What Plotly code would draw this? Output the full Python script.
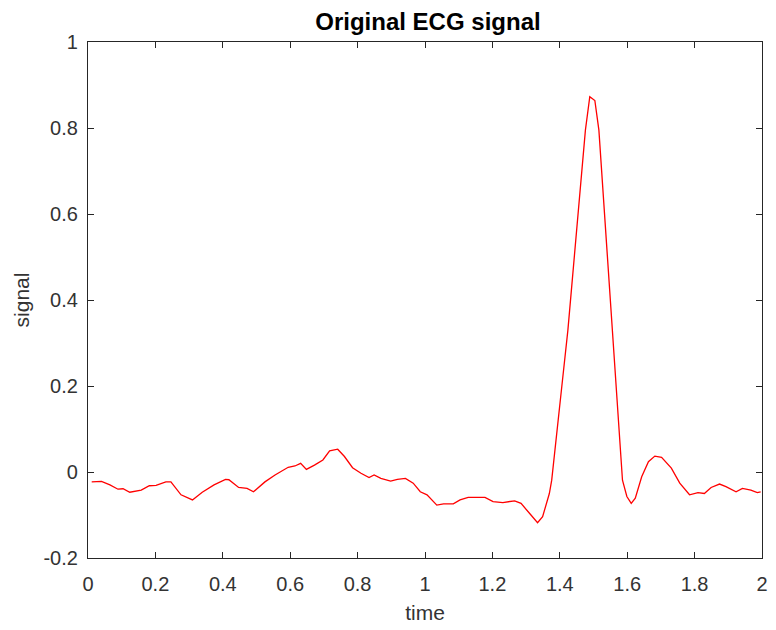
import plotly.graph_objects as go

# Data (time in s, signal amplitude)
time = [0.011, 0.040, 0.065, 0.089, 0.104, 0.124, 0.158, 0.182, 0.202, 0.231,
        0.246, 0.276, 0.310, 0.339, 0.374, 0.408, 0.418, 0.447, 0.472, 0.491,
        0.525, 0.555, 0.594, 0.614, 0.631, 0.648, 0.672, 0.697, 0.717, 0.741,
        0.761, 0.785, 0.810, 0.834, 0.849, 0.869, 0.898, 0.918, 0.942, 0.965,
        0.986, 1.006, 1.035, 1.055, 1.084, 1.104, 1.128, 1.178, 1.202, 1.231,
        1.266, 1.285, 1.310, 1.334, 1.349, 1.369, 1.376, 1.393, 1.408, 1.424,
        1.437, 1.449, 1.462, 1.476, 1.489, 1.504, 1.516, 1.526, 1.535, 1.545,
        1.555, 1.566, 1.576, 1.586, 1.599, 1.612, 1.624, 1.643, 1.663, 1.682,
        1.702, 1.731, 1.756, 1.785, 1.810, 1.829, 1.849, 1.874, 1.893, 1.923,
        1.942, 1.967, 1.986, 1.996]
signal = [-0.023, -0.022, -0.030, -0.040, -0.039, -0.047, -0.042, -0.032, -0.031, -0.023,
          -0.023, -0.053, -0.065, -0.047, -0.030, -0.017, -0.018, -0.036, -0.038, -0.046,
          -0.023, -0.007, 0.011, 0.014, 0.020, 0.006, 0.016, 0.028, 0.049, 0.053,
          0.036, 0.010, -0.003, -0.013, -0.007, -0.015, -0.021, -0.017, -0.015, -0.026,
          -0.046, -0.053, -0.077, -0.074, -0.074, -0.065, -0.059, -0.059, -0.069, -0.071,
          -0.067, -0.073, -0.096, -0.118, -0.104, -0.050, -0.019, 0.098, 0.214, 0.330,
          0.447, 0.563, 0.679, 0.795, 0.873, 0.864, 0.795, 0.679, 0.563, 0.447,
          0.330, 0.214, 0.098, -0.019, -0.057, -0.073, -0.061, -0.011, 0.024, 0.037,
          0.034, 0.009, -0.026, -0.053, -0.048, -0.050, -0.036, -0.028, -0.034, -0.046,
          -0.038, -0.042, -0.048, -0.046]

x_ticks = [0, 0.2, 0.4, 0.6, 0.8, 1, 1.2, 1.4, 1.6, 1.8, 2]
x_tick_labels = ["0", "0.2", "0.4", "0.6", "0.8", "1", "1.2", "1.4", "1.6", "1.8", "2"]
y_ticks = [-0.2, 0, 0.2, 0.4, 0.6, 0.8, 1]
y_tick_labels = ["-0.2", "0", "0.2", "0.4", "0.6", "0.8", "1"]

axis_color = "#262626"
label_color = "#333333"
font_family = "Liberation Sans, Arial, Helvetica, sans-serif"

fig = go.Figure()
fig.add_trace(go.Scatter(x=time, y=signal, mode="lines",
                         line=dict(color="#ff0000", width=1.3),
                         showlegend=False, hoverinfo="skip"))

common = dict(showline=True, linecolor=axis_color, linewidth=1.2, mirror="ticks",
              ticks="inside", ticklen=6, tickwidth=1.2, tickcolor=axis_color,
              showgrid=False, zeroline=False,
              tickfont=dict(family=font_family, size=20, color=label_color))

fig.update_layout(
    width=776, height=630,
    margin=dict(l=88, r=8, t=42, b=72),
    paper_bgcolor="white", plot_bgcolor="white",
    title=dict(text="<b>Original ECG signal</b>", x=0.5515, xanchor="center",
               y=1 - 22 / 630, yanchor="middle", yref="container",
               font=dict(family=font_family, size=24, color="#000000")),
    xaxis=dict(range=[0, 2], tickvals=x_ticks, ticktext=x_tick_labels,
               ticklabelstandoff=8,
               title=dict(text="time", standoff=11,
                          font=dict(family=font_family, size=21, color=label_color)),
               **common),
    yaxis=dict(range=[-0.2, 1], tickvals=y_ticks, ticktext=y_tick_labels,
               ticklabelstandoff=5,
               title=dict(text="signal", standoff=8,
                          font=dict(family=font_family, size=21, color=label_color)),
               **common),
)

fig.write_html("out.html")
